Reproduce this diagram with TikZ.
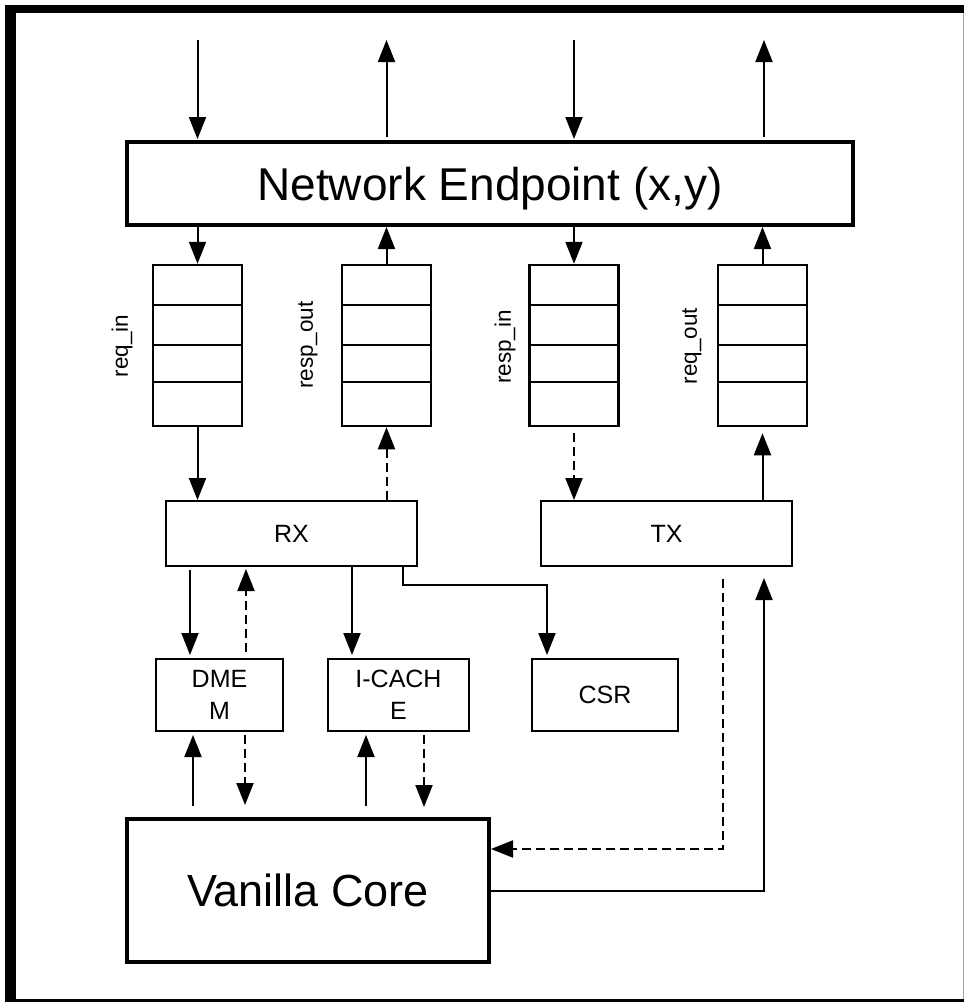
\documentclass[tikz,border=0pt]{standalone}
\usepackage{fontspec}
\setmainfont{Liberation Sans}
\usetikzlibrary{arrows.meta,calc}
\begin{document}
\begin{tikzpicture}[x=1pt,y=-1pt,
  bigbox/.style={draw,line width=4pt,inner sep=0pt,fill=white},
  thinbox/.style={draw,line width=2pt,inner sep=0pt,fill=white,align=center,font=\fontsize{25}{32}\selectfont},
  qbox/.style={draw,line width=2.5pt,inner sep=0pt,minimum width=89pt,minimum height=161pt},
  qline/.style={line width=2.5pt},
  lab/.style={rotate=90,inner sep=0pt,font=\fontsize{22.5}{26}\selectfont},
  arr/.style={line width=2pt,-{Triangle[length=22pt,width=17pt]}},
  darr/.style={arr,dash pattern=on 9pt off 5pt}]
\useasboundingbox (0,0) rectangle (964,1002);
\fill[white] (0,0) rectangle (964,1002);
% outer frame (right side lies beyond the picture edge)
\fill[black] (5,5) rectangle (16,1002);
\fill[black] (5,5) rectangle (964,13);
\fill[black] (5,999) rectangle (964,1002);
\draw[black!35,line width=1pt] (963.5,13) -- (963.5,999);

% network endpoint
\node[bigbox,minimum width=726pt,minimum height=83pt,text height=33pt,text depth=0pt,font=\fontsize{46}{50}\selectfont] (ne) at (490,183.5) {Network Endpoint (x,y)};

% queues
\node[qbox] (q1) at (197.5,345.5) {};
\node[qbox] (q2) at (386.5,345.5) {};
\node[qbox] (q3) at (574,345.5) {};
\node[qbox] (q4) at (762.5,345.5) {};
\foreach \q in {q1,q2,q3,q4}{
  \foreach \d in {41,81,118}{
    \draw[qline] ($(\q.north west)+(0,\d)$) -- ($(\q.north east)+(0,\d)$);
  }
}
\node[lab] (l1) at (122,346) {req\_in};
\node[lab] (l2) at (308,345) {resp\_out};
\node[lab] (l3) at (505,347) {resp\_in};
\node[lab] (l4) at (692,346) {req\_out};

% blocks
\node[thinbox,minimum width=251pt,minimum height=65pt] (rx) at (291.5,533.5) {RX};
\node[thinbox,minimum width=251pt,minimum height=65pt] (tx) at (666.5,533.5) {TX};
\node[thinbox,minimum width=127pt,minimum height=72pt] (dmem) at (219.5,695) {DME\\M};
\node[thinbox,minimum width=141pt,minimum height=72pt] (ic) at (398.5,695) {I-CACH\\E};
\node[thinbox,minimum width=146pt,minimum height=72pt] (csr) at (605,695) {CSR};
\node[bigbox,minimum width=362pt,minimum height=143pt,font=\fontsize{45}{50}\selectfont] (core) at (308,890.5) {Vanilla Core};

% external arrows
\coordinate (a1) at (197.5,40);
\coordinate (a2) at (386.5,40);
\coordinate (a3) at (574,40);
\coordinate (a4) at (764,40);
\draw[arr,shorten >=1pt] (a1) -- (a1 |- ne.north);
\draw[arr,shorten <=3pt] (a2 |- ne.north) -- (a2);
\draw[arr,shorten >=1pt] (a3) -- (a3 |- ne.north);
\draw[arr,shorten <=3pt] (a4 |- ne.north) -- (a4);

% endpoint <-> queues
\draw[arr] (ne.south -| q1) -- (q1.north);
\draw[arr] (q2.north) -- (ne.south -| q2);
\draw[arr] (ne.south -| q3) -- (q3.north);
\draw[arr] (q4.north) -- (ne.south -| q4);

% queues <-> RX/TX
\draw[arr] (q1.south) -- (rx.north -| q1);
\draw[darr] (rx.north -| q2) -- (q2.south);
\draw[darr,shorten <=6pt] (q3.south) -- (tx.north -| q3);
\draw[arr,shorten >=6pt] (tx.north -| q4) -- (q4.south);

% RX -> memories
\coordinate (xa) at (190,600);
\coordinate (xb) at (246,600);
\coordinate (xc) at (352,600);
\coordinate (xd) at (403,585);
\draw[arr,shorten <=3pt,shorten >=3pt] (rx.south -| xa) -- (dmem.north -| xa);
\draw[darr,shorten <=6pt,shorten >=2pt] (dmem.north -| xb) -- (rx.south -| xb);
\draw[arr,shorten >=3pt] (rx.south -| xc) -- (ic.north -| xc);
\draw[arr,shorten >=3pt] (rx.south -| xd) -- (xd) -| ($(csr.north west)+(16,0)$);

% core <-> memories
\coordinate (xf) at (193,780);
\coordinate (xg) at (245,780);
\coordinate (xh) at (366,780);
\coordinate (xi) at (424,780);
\draw[arr,shorten <=11pt,shorten >=3pt] (core.north -| xf) -- (dmem.south -| xf);
\draw[darr,shorten <=3pt,shorten >=12pt] (dmem.south -| xg) -- (core.north -| xg);
\draw[arr,shorten <=11pt,shorten >=3pt] (core.north -| xh) -- (ic.south -| xh);
\draw[darr,shorten <=3pt,shorten >=10pt] (ic.south -| xi) -- (core.north -| xi);

% core <-> TX
\coordinate (xj) at (723,849);
\coordinate (xk) at (764,890.5);
\draw[darr,shorten <=12pt] (tx.south -| xj) -- (xj) -- (core.east |- xj);
\draw[arr,shorten >=11pt] (core.east) -- (xk) -- (tx.south -| xk);
\end{tikzpicture}
\end{document}
